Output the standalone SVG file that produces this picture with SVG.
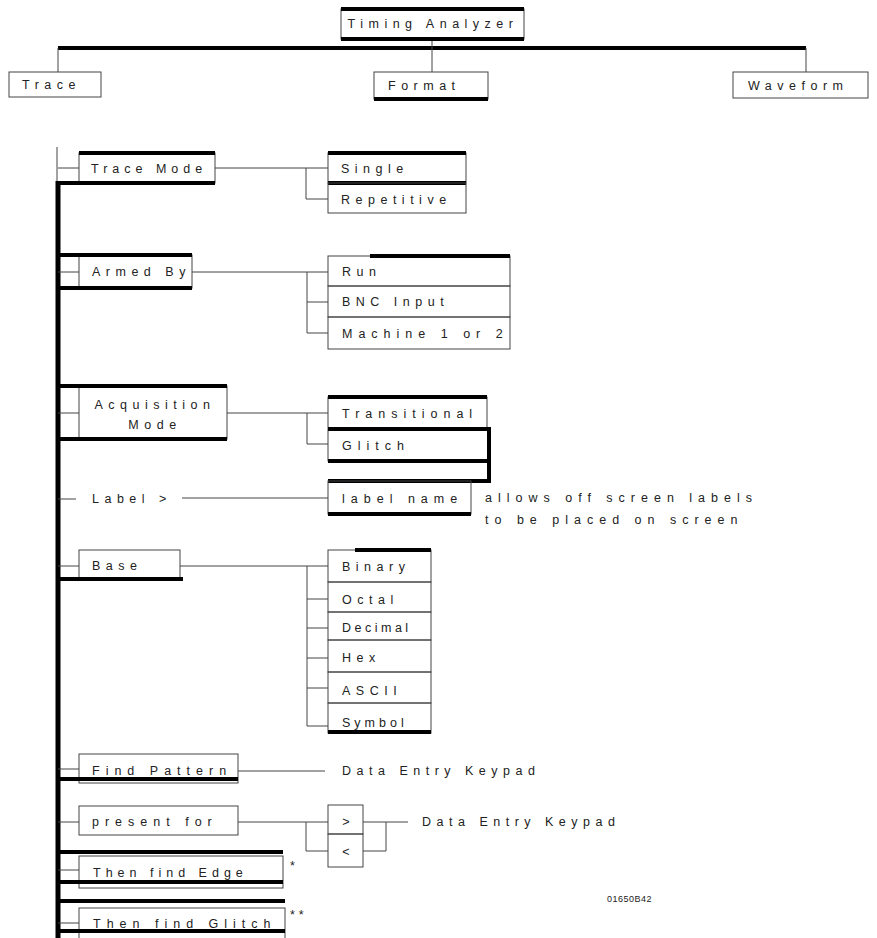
<svg xmlns="http://www.w3.org/2000/svg" width="877" height="938" viewBox="0 0 877 938">
<style>
.bg{fill:#fff}
.box{fill:none;stroke:#444;stroke-width:1}
.ln{fill:none;stroke:#444;stroke-width:1}
.tk{fill:none;stroke:#000;stroke-width:4}
.tr{fill:none;stroke:#000;stroke-width:5}
text{font-family:"Liberation Sans",Arial,sans-serif;font-size:12.5px;letter-spacing:5.5px;fill:#222}
.n{letter-spacing:6px}
.c{text-anchor:middle}
.s{font-size:9px;letter-spacing:0.5px}
</style>
<rect class="bg" x="0" y="0" width="877" height="938"/>
<g id="connectors">
<line class="tk" x1="58" y1="48" x2="806" y2="48"/>
<line class="ln" x1="58" y1="48" x2="58" y2="72"/>
<line class="ln" x1="806" y1="48" x2="806" y2="72"/>
<line class="ln" x1="432" y1="39" x2="432" y2="72"/>
<line class="ln" x1="57" y1="147" x2="57" y2="183"/>
<line class="tr" x1="58" y1="181" x2="58" y2="938"/>
<path class="ln" d="M58 168H79M215 168H328M306 168V199H328"/>
<path class="ln" d="M58 272H79M192 272H328M307 272V333H328M307 302H328"/>
<path class="ln" d="M58 413H79M227 413H328M307 413V444H328"/>
<path class="ln" d="M58 499H76M182 498H328"/>
<path class="ln" d="M58 566H79M180 566H328M307 566V726H328M307 599H328M307 628H328M307 658H328M307 688H328"/>
<path class="ln" d="M58 769H79M238 771H325"/>
<path class="ln" d="M58 822H79M238 822H328M306 822V851H328M363 822H408M386 822V851H363"/>
<path class="ln" d="M58 870H79M58 923H79"/>
</g>
<g id="timing-analyzer">
<rect class="box" x="341" y="9" width="183" height="30"/>
<line class="tk" x1="341" y1="9" x2="524" y2="9"/>
<line class="tk" x1="341" y1="39" x2="524" y2="39"/>
<text x="433" y="28" class="c">Timing Analyzer</text>
</g>
<g id="trace">
<rect class="box" x="9" y="72" width="92" height="25"/>
<text x="22" y="89">Trace</text>
</g>
<g id="format">
<rect class="box" x="374" y="72" width="114" height="27"/>
<line class="tk" x1="374" y1="99" x2="488" y2="99"/>
<text x="388" y="90">Format</text>
</g>
<g id="waveform">
<rect class="box" x="733" y="72" width="135" height="26"/>
<text x="748" y="90">Waveform</text>
</g>
<g id="trace-mode">
<rect class="box" x="79" y="153" width="136" height="30"/>
<line class="tk" x1="79" y1="153" x2="215" y2="153"/>
<line class="tk" x1="58" y1="183" x2="215" y2="183"/>
<text x="91" y="173" style="letter-spacing:5px">Trace Mode</text>
</g>
<g id="single">
<rect class="box" x="328" y="153" width="138" height="30"/>
<line class="tk" x1="328" y1="153" x2="466" y2="153"/>
<line class="tk" x1="328" y1="183" x2="466" y2="183"/>
<text x="341" y="173">Single</text>
</g>
<g id="repetitive">
<rect class="box" x="328" y="183" width="138" height="30"/>
<text x="341" y="204">Repetitive</text>
</g>
<g id="armed-by">
<rect class="box" x="79" y="255" width="113" height="33"/>
<line class="tk" x1="58" y1="255" x2="192" y2="255"/>
<line class="tk" x1="58" y1="288" x2="192" y2="288"/>
<text x="92" y="276">Armed By</text>
</g>
<g id="run">
<rect class="box" x="328" y="256" width="182" height="30"/>
<line class="tk" x1="370" y1="256" x2="510" y2="256"/>
<text x="342" y="276">Run</text>
</g>
<g id="bnc-input">
<rect class="box" x="328" y="286" width="182" height="31"/>
<text x="342" y="306">BNC Input</text>
</g>
<g id="machine">
<rect class="box" x="328" y="317" width="182" height="32"/>
<text x="342" y="338" class="n">Machine 1 or 2</text>
</g>
<g id="acquisition-mode">
<rect class="box" x="79" y="386" width="148" height="53"/>
<line class="tk" x1="58" y1="386" x2="227" y2="386"/>
<line class="tk" x1="58" y1="439" x2="227" y2="439"/>
<text x="155" y="409" class="c">Acquisition</text>
<text x="155" y="429" class="c">Mode</text>
</g>
<g id="transitional">
<rect class="box" x="328" y="397" width="159" height="31"/>
<line class="tk" x1="328" y1="397" x2="487" y2="397"/>
<text x="342" y="418" class="n">Transitional</text>
</g>
<g id="glitch">
<rect class="box" x="328" y="429" width="161" height="32"/>
<path class="tk" d="M328 429H489V481H328M328 461H489"/>
<text x="342" y="450" class="n">Glitch</text>
</g>
<g id="label">
<text x="92" y="503">Label &gt;</text>
</g>
<g id="label-name">
<rect class="box" x="328" y="481" width="143" height="33"/>
<line class="tk" x1="328" y1="514" x2="471" y2="514"/>
<text x="342" y="503" class="n">label name</text>
</g>
<g id="note">
<text x="485" y="502" class="n">allows off screen labels</text>
<text x="485" y="524" class="n">to be placed on screen</text>
</g>
<g id="base">
<rect class="box" x="79" y="550" width="101" height="29"/>
<line class="tk" x1="58" y1="579" x2="183" y2="579"/>
<text x="92" y="570">Base</text>
</g>
<g id="binary">
<rect class="box" x="328" y="550" width="103" height="32"/>
<line class="tk" x1="355" y1="550" x2="431" y2="550"/>
<text x="342" y="571">Binary</text>
</g>
<g id="octal">
<rect class="box" x="328" y="582" width="103" height="30"/>
<text x="342" y="604">Octal</text>
</g>
<g id="decimal">
<rect class="box" x="328" y="612" width="103" height="28"/>
<text x="342" y="632" style="letter-spacing:3.5px">Decimal</text>
</g>
<g id="hex">
<rect class="box" x="328" y="640" width="103" height="32"/>
<text x="342" y="662">Hex</text>
</g>
<g id="ascii">
<rect class="box" x="328" y="672" width="103" height="31"/>
<text x="342" y="695">ASCII</text>
</g>
<g id="symbol">
<rect class="box" x="328" y="703" width="103" height="30"/>
<line class="tk" x1="328" y1="732" x2="431" y2="732"/>
<text x="342" y="727" style="letter-spacing:4px">Symbol</text>
</g>
<g id="find-pattern">
<rect class="box" x="79" y="754" width="159" height="29"/>
<line class="tk" x1="58" y1="779" x2="238" y2="779"/>
<text x="92" y="775" class="n">Find Pattern</text>
</g>
<g id="keypad1">
<text x="342" y="775">Data Entry Keypad</text>
</g>
<g id="present-for">
<rect class="box" x="79" y="806" width="159" height="29"/>
<text x="92" y="826" class="n">present for</text>
</g>
<g id="gt">
<rect class="box" x="328" y="805" width="35" height="29"/>
<text x="346" y="826" class="c" style="letter-spacing:0">&gt;</text>
</g>
<g id="lt">
<rect class="box" x="328" y="834" width="35" height="33"/>
<text x="346" y="856" class="c" style="letter-spacing:0">&lt;</text>
</g>
<g id="keypad2">
<text x="422" y="826">Data Entry Keypad</text>
</g>
<g id="then-find-edge">
<rect class="box" x="79" y="856" width="204" height="32"/>
<line class="tk" x1="58" y1="852" x2="283" y2="852"/>
<line class="tk" x1="58" y1="882" x2="283" y2="882"/>
<text x="93" y="877" style="letter-spacing:5px">Then find Edge</text>
<text x="290" y="870" style="letter-spacing:0">*</text>
</g>
<g id="then-find-glitch">
<rect class="box" x="79" y="908" width="206" height="40"/>
<line class="tk" x1="58" y1="901" x2="285" y2="901"/>
<line class="tk" x1="58" y1="931" x2="285" y2="931"/>
<text x="93" y="928" class="n">Then find Glitch</text>
<text x="290" y="919" style="letter-spacing:4px">**</text>
</g>
<g id="figure-id">
<text x="607" y="902" class="s">01650B42</text>
</g>
</svg>
